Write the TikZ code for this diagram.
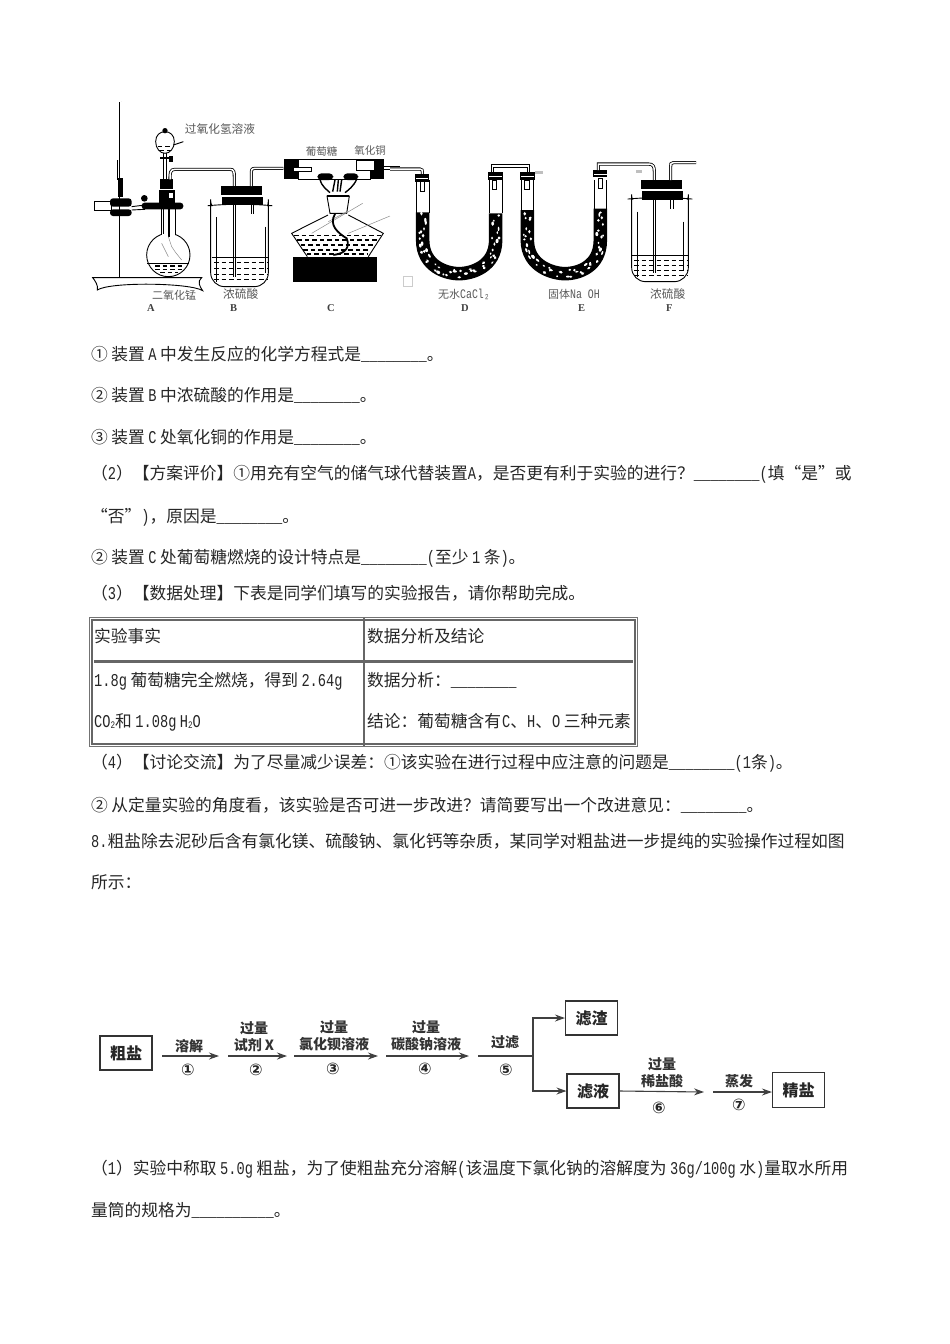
\documentclass[tikz,border=0pt]{standalone}
\usepackage{fontspec}
\usetikzlibrary{arrows.meta,decorations.markings}
\setmainfont{Noto Sans CJK SC}
\newfontfamily\lat[FakeStretch=0.76]{Liberation Mono}
\newfontfamily\serif{Liberation Serif}
\newfontfamily\djv{DejaVu Sans}
\newcommand\la[1]{{\lat\fontsize{18}{18}\selectfont #1}}
\newcommand\las[1]{\kern3.5pt\la{#1}\kern3.5pt}
\newcommand\blank{\la{\_\_\_\_\_\_\_\_}}
\tikzset{
 txt/.style={anchor=base west,inner sep=0pt,text=black!85,font=\fontsize{16.75}{20}\selectfont},
 app/.style={draw=black,line width=.9pt},
 tube/.style={draw=black,line width=.8pt,double=white,double distance=1.5pt},
 blk/.style={fill=black},
 liq/.style={draw=black,line width=.9pt,dash pattern=on 4.5pt off 3pt},
 sm/.style={inner sep=0pt,text=black!65,font=\fontsize{10.5}{12}\selectfont},
 let/.style={inner sep=0pt,text=black!75,font=\serif\bfseries\fontsize{10.5}{12}\selectfont},
 speck/.style={postaction={decorate,decoration={markings,mark=between positions 0 and 1 step 3.2pt with {\fill[white] ({rand*3.8pt},{rand*3.8pt}) ellipse ({1.7pt+rand*.6pt} and {1.2pt+rand*.4pt});}}}},
 fbox/.style={draw=black!80,line width=1.1pt,minimum width=52pt,minimum height=34pt,inner sep=0pt,text=black!85,font=\bfseries\fontsize{16}{18}\selectfont},
 flab/.style={inner sep=0pt,align=center,text=black!80,font=\bfseries\fontsize{14}{17}\selectfont},
 fnum/.style={inner sep=0pt,text=black!85,font=\djv\bfseries\fontsize{16}{17}\selectfont},
 farr/.style={draw=black!75,line width=1.1pt,-{Stealth[length=10pt,width=7pt]}},
 fline/.style={draw=black!75,line width=1.1pt},
 tabl/.style={draw=black!60,line width=2.6pt},
}
\begin{document}
\begin{tikzpicture}[x=1pt,y=-1pt]
\useasboundingbox[fill=white] (0,0) rectangle (950,1344);
\pgfmathsetseed{11}
% ---------- apparatus A, B, C
\begin{scope}[shift={(90,90)},x=.33333pt,y=-.33333pt]
 % stand
 \draw[app,fill=white] (8,563) -- (335,563) .. controls (320,575) and (330,590) .. (338,602) .. controls (300,578) and (60,575) .. (22,600) .. controls (25,585) and (15,572) .. (8,563) -- cycle;
 \draw[tube,double distance=1.8pt] (92,35) -- (92,562);
 \draw[app,line width=1.4pt] (82,210) -- (82,270);
 \fill[blk] (83,265) rectangle (100,320);
 \draw[app,fill=white] (12,335) rectangle (65,360);
 \fill[blk,rounded corners=3pt] (60,325) rectangle (125,350);
 \fill[blk,rounded corners=3pt] (60,358) rectangle (125,378);
 \draw[app] (125,350) -- (165,345) (125,360) -- (165,358);
 \fill[blk,rounded corners=3pt] (155,338) rectangle (280,358);
 \fill[blk] (163,325) circle[radius=10];
 % flask
 \draw[app,fill=white] (235,495) circle[radius=65];
 \fill[white] (214,425) rectangle (254,445);
 \draw[app] (213,358) -- (213,435) (256,358) -- (256,435);
 \draw[app,line width=1.4pt] (237,335) -- (237,442);
 \draw[app,line width=1.4pt] (221,335) -- (221,432);
 \draw[black!45,line width=.5pt] (235,440) -- (245,470) -- (255,485) -- (275,510) (215,460) -- (235,500);
 \draw[app] (172,520) -- (298,520);
 \foreach \y/\a/\b in {528/195/280,538/195/280,548/210/265}{\draw[liq,line width=1.1pt] (\a,\y) -- (\b,\y);}
 % funnel
 \draw[tube,double distance=1.7pt] (225,190) -- (225,270);
 \draw[app,fill=white] (197,155) .. controls (197,135) and (210,125) .. (225,125) .. controls (240,125) and (253,135) .. (253,155) .. controls (253,175) and (240,190) .. (225,190) .. controls (210,190) and (197,175) .. (197,155) -- cycle;
 \fill[blk] (225,122) circle[radius=8];
 \draw[liq] (203,170) -- (248,170) (208,182) -- (242,182);
 \fill[blk] (210,200) rectangle (240,208);
 \fill[blk] (238,198) rectangle (250,215);
 \draw[app] (250,165) -- (280,155);
 % stopper A
 \fill[blk] (209,268) rectangle (250,298);
 \fill[blk] (207,301) rectangle (255,338);
 \fill[white] (236,310) rectangle (248,325);
 % tube A -> B
 \draw[tube] (240,268) .. controls (240,250) and (240,238) .. (255,238) -- (420,238) .. controls (432,238) and (433,245) .. (433,262) -- (433,288);
 % bottle B
 \draw[app,fill=white,rounded corners=14pt] (362,370) .. controls (362,355) and (375,345) .. (395,343) -- (505,343) .. controls (525,345) and (535,355) .. (535,370) -- (535,590) -- (362,590) -- cycle;
 \draw[app] (380,382) -- (380,575) (525,410) -- (525,550);
 \fill[blk] (392,288) rectangle (515,315);
 \fill[blk] (395,320) rectangle (520,346);
 \draw[tube] (433,346) -- (433,560);
 \draw[tube] (580,235) -- (495,235) .. controls (485,235) and (484,240) .. (484,250) -- (484,288);
 \draw[tube] (487,346) -- (487,372);
 \draw[app] (365,502) -- (535,502);
 \foreach \y in {518,535,552,568}{\draw[liq] (372,\y) -- (530,\y);}
 % tube C
 \draw[app,fill=white] (625,208) rectangle (840,268);
 \fill[blk] (582,208) rectangle (625,268);
 \fill[blk] (840,208) rectangle (882,268);
 \draw[app,fill=white] (610,232) rectangle (665,245);
 \draw[app,fill=white] (800,212) rectangle (852,240);
 \draw[tube] (882,234) -- (930,234);
 % burner and wires
 \fill[blk,rounded corners=4pt] (682,250) rectangle (730,270);
 \fill[blk,rounded corners=4pt] (760,250) rectangle (805,270);
 \draw[app,line width=1.4pt] (690,268) .. controls (695,290) and (712,300) .. (720,308) (800,268) .. controls (790,290) and (775,300) .. (765,308) (735,270) -- (728,305) (755,270) -- (750,305) (745,270) -- (742,305);
 \draw[app,fill=white] (711,318) -- (778,318) -- (770,370) -- (720,370) -- cycle;
 \draw[app,line width=1.4pt] (711,318) -- (778,318);
 \draw[app] (714,375) -- (605,430) -- (652,500) (775,375) -- (880,430) -- (835,500);
 \draw[black!45,line width=.5pt] (665,430) -- (818,340) (775,430) -- (900,378) (715,395) -- (770,365);
 \foreach \y/\a/\b in {436/612/873,450/622/862,465/632/852,480/640/842,492/650/835}{\draw[liq,line width=1.1pt] (\a,\y) -- (\b,\y);}
 \draw[app,line width=1.8pt] (735,372) .. controls (715,405) and (745,430) .. (770,445) .. controls (780,470) and (770,490) .. (730,495);
 \fill[blk] (610,500) rectangle (862,575);
 \node[sm,font=\fontsize{11.7}{13}\selectfont] (t1) at (390,118) {过氧化氢溶液};
 \node[sm] (t2) at (695,183) {葡萄糖};
 \node[sm] (t3) at (840,183) {氧化铜};
 \node[sm,font=\fontsize{11}{13}\selectfont] (t4) at (252,615) {二氧化锰};
 \node[sm,font=\fontsize{11.7}{13}\selectfont] (t5) at (452,612) {浓硫酸};
 \node[let] (la) at (183,655) {A};
 \node[let] (lb) at (431,655) {B};
 \node[let] (lc) at (723,655) {C};
\end{scope}
% ---------- apparatus D, E, F
\begin{scope}[shift={(390,150)},x=.33333pt,y=-.33333pt]
 \draw[tube] (0,57) -- (90,57) .. controls (97,57) and (97,60) .. (97,72);
 % D
 \draw[app] (79,90) -- (79,190) (117,90) -- (117,190) (298,90) -- (298,190) (336,90) -- (336,190);
 \draw[black,line width=13.5pt,speck] (98,187) -- (98,270) .. controls (98,350) and (170,371) .. (207,371) .. controls (245,371) and (317,350) .. (317,270) -- (317,190);
 \fill[blk] (75,72) rectangle (118,95);
 \fill[white] (78,85) rectangle (115,88);
 \fill[blk] (295,65) rectangle (338,90);
 \fill[white] (298,78) rectangle (335,81);
 \draw[app,fill=white] (90,95) rectangle (103,125);
 \draw[app,fill=white] (308,90) rectangle (320,118);
 \draw[tube] (308,65) -- (308,48) -- (416,48) -- (416,65);
 % E
 \draw[app] (393,90) -- (393,180) (431,90) -- (431,180) (612,90) -- (612,178) (650,90) -- (650,178);
 \draw[black,line width=13.5pt,speck] (412,180) -- (412,270) .. controls (412,350) and (490,371) .. (525,371) .. controls (565,371) and (631,350) .. (631,270) -- (631,176);
 \fill[blk] (391,65) rectangle (434,90);
 \fill[white] (394,78) rectangle (431,81);
 \fill[blk] (610,60) rectangle (652,80);
 \fill[white] (612,72) rectangle (650,75);
 \draw[app,fill=white] (403,90) rectangle (417,118);
 \draw[app,fill=white] (625,85) rectangle (638,115);
 \fill[black!25] (436,62) rectangle (460,72);
 % tube E -> F
 \draw[tube] (625,60) -- (625,42) -- (775,42) .. controls (790,42) and (793,50) .. (793,65) -- (793,90);
 % F
 \draw[app,fill=white,rounded corners=14pt] (725,175) .. controls (725,155) and (735,145) .. (755,143) -- (865,143) .. controls (885,145) and (895,155) .. (895,175) -- (895,395) -- (725,395) -- cycle;
 \draw[app] (742,185) -- (742,380) (880,215) -- (880,360);
 \fill[blk] (752,90) rectangle (875,117);
 \fill[blk] (755,122) rectangle (880,150);
 \draw[tube] (793,150) -- (793,370);
 \draw[tube] (918,38) -- (850,38) .. controls (842,38) and (842,42) .. (842,50) -- (842,90);
 \draw[tube] (846,150) -- (846,176);
 \draw[app] (727,315) -- (895,315);
 \foreach \y in {330,345,362,377}{\draw[liq] (732,\y) -- (890,\y);}
 \fill[black!25] (737,60) rectangle (755,68);
 \draw[black!20,fill=white,line width=.7pt] (40,378) rectangle (68,408);
 \node[sm,font=\fontsize{11}{13}\selectfont] (t6) at (222,432) {无水{\lat\fontsize{13}{13}\selectfont CaCl₂}};
 \node[sm,font=\fontsize{11}{13}\selectfont] (t7) at (552,432) {固体{\lat\fontsize{13}{13}\selectfont Na OH}};
 \node[sm,font=\fontsize{11.7}{13}\selectfont] (t8) at (833,432) {浓硫酸};
 \node[let] (ld) at (225,475) {D};
 \node[let] (le) at (575,475) {E};
 \node[let] (lf) at (838,475) {F};
\end{scope}
% ---------- body text
\node[txt] (l1) at (91,360) {①\kern3.5pt 装置\las{A}中发生反应的化学方程式是\blank。};
\node[txt] (l2) at (91,401) {②\kern3.5pt 装置\las{B}中浓硫酸的作用是\blank。};
\node[txt] (l3) at (91,443) {③\kern3.5pt 装置\las{C}处氧化铜的作用是\blank。};
\node[txt] (l4) at (91,479) {（\la{2}）【方案评价】①用充有空气的储气球代替装置\la{A}，是否更有利于实验的进行？\blank\la{(}填“是”或};
\node[txt] (l5) at (91,522) {“否”\la{)}，原因是\blank。};
\node[txt] (l6) at (91,563) {②\kern3.5pt 装置\las{C}处葡萄糖燃烧的设计特点是\blank\la{(}至少\las{1}条\la{)}。};
\node[txt] (l7) at (91,599) {（\la{3}）【数据处理】下表是同学们填写的实验报告，请你帮助完成。};
\node[txt] (l8) at (91,768) {（\la{4}）【讨论交流】为了尽量减少误差：①该实验在进行过程中应注意的问题是\blank\la{(1}条\la{)}。};
\node[txt] (l9) at (91,811) {②\kern3.5pt 从定量实验的角度看，该实验是否可进一步改进？请简要写出一个改进意见：\blank。};
\node[txt] (l10) at (91,847) {\la{8.}粗盐除去泥砂后含有氯化镁、硫酸钠、氯化钙等杂质，某同学对粗盐进一步提纯的实验操作过程如图};
\node[txt] (l11) at (91,888) {所示：};
\node[txt] (l12) at (91,1174) {（\la{1}）实验中称取\las{5.0g}粗盐，为了使粗盐充分溶解\la{(}该温度下氯化钠的溶解度为\las{36g/100g}水\la{)}量取水所用};
\node[txt] (l13) at (91,1216) {量筒的规格为\la{\_\_\_\_\_\_\_\_\_\_}。};
% ---------- table
\draw[black!55,line width=1.2pt] (89.5,617.5) rectangle (637.5,746.5);
\draw[tabl] (92,620) rectangle (635,744);
\draw[tabl] (364,618) -- (364,746);
\draw[tabl,line width=3pt] (94,661) -- (633,661);
\node[txt] (c1) at (94,642) {实验事实};
\node[txt] (c2) at (367,642) {数据分析及结论};
\node[txt] (c3) at (94,686) {\la{1.8g}\kern3.5pt 葡萄糖完全燃烧，得到\kern3.5pt\la{2.64g}};
\node[txt] (c4) at (94,727) {\la{CO}\raisebox{-1pt}{\la{\fontsize{10}{10}\selectfont 2}}和\las{1.08g}\la{H}\raisebox{-1pt}{\la{\fontsize{10}{10}\selectfont 2}}\la{O}};
\node[txt] (c5) at (367,686) {数据分析：\blank};
\node[txt] (c6) at (367,727) {结论：葡萄糖含有\kern1pt\la{C}、\la{H}、\la{O}\kern3.5pt 三种元素};
% ---------- flow chart
\node[fbox] (crude) at (126,1053) {粗盐};
\node[fbox] (resid) at (591.5,1018) {滤渣};
\node[fbox] (filt) at (593,1091) {滤液};
\node[fbox,minimum height=35pt] (pure) at (798.5,1090) {精盐};
\coordinate (a1s) at (162,1056); \coordinate (a1e) at (219,1056);
\coordinate (a2s) at (228,1056); \coordinate (a2e) at (287,1056);
\coordinate (a3s) at (294,1056); \coordinate (a3e) at (378,1056);
\coordinate (a4s) at (386,1056); \coordinate (a4e) at (469,1056);
\coordinate (a5s) at (478,1056); \coordinate (jn) at (533,1056);
\coordinate (a6e) at (704,1092); \coordinate (a7s) at (713,1092);
\draw[farr] (a1s) -- (a1e);
\draw[farr] (a2s) -- (a2e);
\draw[farr] (a3s) -- (a3e);
\draw[farr] (a4s) -- (a4e);
\draw[fline] (a5s) -- (jn);
\draw[farr] (jn) |- (resid.west);
\draw[farr] (jn) |- (filt.west);
\draw[farr] (filt.east) -- (a6e);
\draw[farr] (a7s) -- (pure.west |- a7s);
\node[flab] (f1) at (189,1046) {溶解};
\node[flab] (f2) at (254,1037) {过量\\试剂 X};
\node[flab] (f3) at (334,1036) {过量\\氯化钡溶液};
\node[flab] (f4) at (426,1036) {过量\\碳酸钠溶液};
\node[flab] (f5) at (505,1042) {过滤};
\node[flab] (f6) at (662,1073) {过量\\稀盐酸};
\node[flab] (f7) at (739,1081) {蒸发};
\node[fnum] (n1) at (188,1070) {①};
\node[fnum] (n2) at (256,1070) {②};
\node[fnum] (n3) at (333,1069) {③};
\node[fnum] (n4) at (425,1069) {④};
\node[fnum] (n5) at (506,1070) {⑤};
\node[fnum] (n6) at (659,1108) {⑥};
\node[fnum] (n7) at (739,1105) {⑦};
\end{tikzpicture}
\end{document}
